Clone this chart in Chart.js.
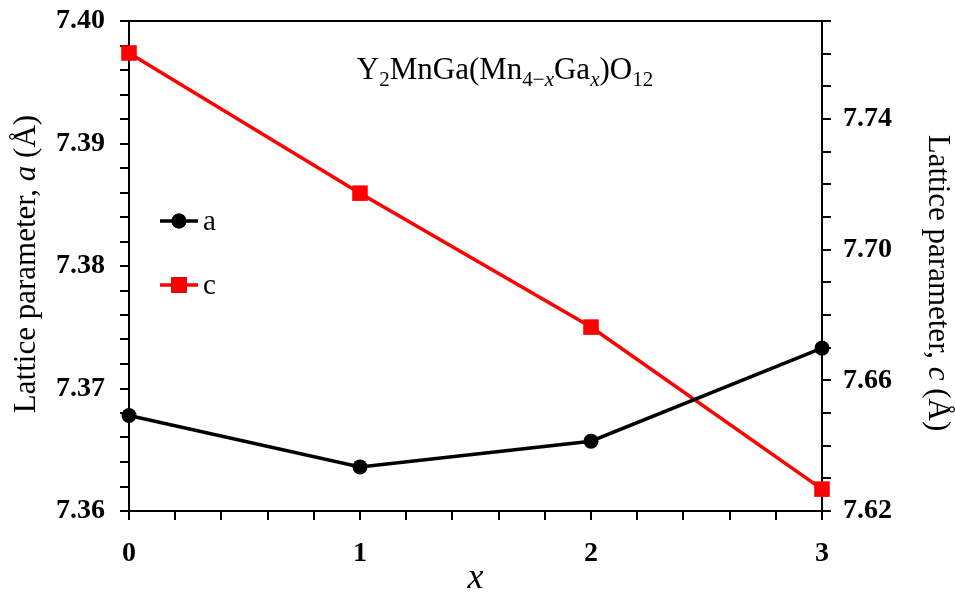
<!DOCTYPE html>
<html>
<head>
<meta charset="utf-8">
<script src="https://cdn.jsdelivr.net/npm/chart.js@4/dist/chart.umd.min.js"></script>
<style>
html,body{margin:0;padding:0;background:#fff;}
#wrap{width:955px;height:592px;}
</style>
</head>
<body>
<div id="wrap"><canvas id="c" width="955" height="592"></canvas></div>
<script>
const xValues = [0, 1, 2, 3];
const aValues = [7.3678, 7.3636, 7.3657, 7.3733];
const cValues = [7.7602, 7.7173, 7.6763, 7.6267];
const leftTicks = ['7.36', '7.37', '7.38', '7.39', '7.40'];
const rightTicks = ['7.62', '7.66', '7.70', '7.74'];
const xTicks = ['0', '1', '2', '3'];

const SERIF = '"Liberation Serif", "Times New Roman", serif';

function richWidth(ctx, segs) {
  let w = 0;
  for (const s of segs) { ctx.font = s.font; w += ctx.measureText(s.t).width; }
  return w;
}
function drawRich(ctx, segs, x, y) {
  let cx = x;
  for (const s of segs) {
    ctx.font = s.font;
    ctx.fillText(s.t, cx, y + (s.dy || 0));
    cx += ctx.measureText(s.t).width;
  }
}

const decor = {
  id: 'decor',
  afterDraw(chart) {
    const ctx = chart.ctx;
    const ca = chart.chartArea;
    ctx.save();
    // top frame line
    ctx.strokeStyle = '#000';
    ctx.lineWidth = 2;
    ctx.beginPath();
    ctx.moveTo(ca.left - 1, ca.top);
    ctx.lineTo(ca.right + 1, ca.top);
    ctx.stroke();

    ctx.fillStyle = '#000';
    ctx.textBaseline = 'alphabetic';
    // title
    const M = '31px ' + SERIF, S = '21px ' + SERIF, SI = 'italic 21px ' + SERIF;
    const title = [
      {t:'Y', font:M}, {t:'2', font:S, dy:7}, {t:'MnGa(Mn', font:M},
      {t:'4\u2212', font:S, dy:7}, {t:'x', font:SI, dy:7}, {t:'Ga', font:M},
      {t:'x', font:SI, dy:7}, {t:')O', font:M}, {t:'12', font:S, dy:7}
    ];
    const tw = richWidth(ctx, title);
    drawRich(ctx, title, 505 - tw / 2, 79);

    // left axis title
    const T = '31px ' + SERIF, TI = 'italic 31px ' + SERIF;
    const lt = [{t:'Lattice parameter, ', font:T}, {t:'a', font:TI}, {t:' (\u00C5)', font:T}];
    ctx.save();
    ctx.translate(35, 264);
    ctx.rotate(-Math.PI / 2);
    drawRich(ctx, lt, -richWidth(ctx, lt) / 2, 0);
    ctx.restore();

    const rt = [{t:'Lattice parameter, ', font:T}, {t:'c', font:TI}, {t:' (\u00C5)', font:T}];
    ctx.save();
    ctx.translate(929, 283);
    ctx.rotate(Math.PI / 2);
    drawRich(ctx, rt, -richWidth(ctx, rt) / 2, 0);
    ctx.restore();

    // x axis title
    ctx.font = 'italic 36px ' + SERIF;
    ctx.textAlign = 'center';
    ctx.fillText('x', (ca.left + ca.right) / 2, 588);
    ctx.textAlign = 'left';

    // legend
    const ds = chart.data.datasets;
    const rows = [221, 285];
    ds.forEach((d, i) => {
      const y = rows[i];
      ctx.strokeStyle = d.borderColor;
      ctx.lineWidth = d.borderWidth;
      ctx.beginPath();
      ctx.moveTo(160, y); ctx.lineTo(198, y); ctx.stroke();
      Chart.helpers.drawPoint(ctx, {pointStyle: d.pointStyle, radius: d.pointRadius, rotation: 0, borderWidth: 0}, 179, y);
      ctx.fillStyle = d.borderColor;
      ctx.fill();
      ctx.fillStyle = '#000';
      ctx.font = '29px ' + SERIF;
      ctx.fillText(d.label, 203, y + 9);
    });
    ctx.restore();
  }
};

function near(v, step, base) {
  const k = (v - base) / step;
  return Math.abs(k - Math.round(k)) < 1e-6;
}

const tickFont = {family: SERIF, size: 28, weight: 'bold'};
function noVPad(s) { s.paddingTop = 0; s.paddingBottom = 0; }

new Chart(document.getElementById('c'), {
  type: 'line',
  data: {
    datasets: [
      {
        label: 'a',
        data: xValues.map((x, i) => ({x, y: aValues[i]})),
        yAxisID: 'y',
        borderColor: '#000', backgroundColor: '#000',
        borderWidth: 3.5, pointStyle: 'circle', pointRadius: 7.5,
        pointBackgroundColor: '#000', pointBorderWidth: 0,
        clip: false, tension: 0
      },
      {
        label: 'c',
        data: xValues.map((x, i) => ({x, y: cValues[i]})),
        yAxisID: 'y2',
        borderColor: '#ff0000', backgroundColor: '#ff0000',
        borderWidth: 3.5, pointStyle: 'rect', pointRadius: 11,
        pointBackgroundColor: '#ff0000', pointBorderWidth: 0,
        clip: false, tension: 0
      }
    ]
  },
  options: {
    responsive: false,
    animation: false,
    layout: {padding: {top: 21, left: 0, right: 0, bottom: 0}},
    plugins: {legend: {display: false}, tooltip: {enabled: false}, title: {display: false}},
    scales: {
      x: {
        type: 'linear', min: 0, max: 3,
        afterFit(s) { s.height = 81; s.paddingLeft = 0; s.paddingRight = 0; },
        border: {display: true, color: '#000', width: 2},
        grid: {drawOnChartArea: false, drawTicks: true, tickLength: 9, color: '#000', lineWidth: 2},
        ticks: {
          stepSize: 0.2, autoSkip: false, maxRotation: 0, color: '#000', font: tickFont, padding: 17,
          callback(v) { const i = xTicks.indexOf(String(Math.round(v))); return near(v, 1, 0) && i >= 0 ? xTicks[i] : ''; }
        }
      },
      y: {
        type: 'linear', position: 'left', min: 7.36, max: 7.40,
        afterFit(s) { s.width = 129; noVPad(s); },
        border: {display: true, color: '#000', width: 2},
        grid: {drawOnChartArea: false, drawTicks: true, tickLength: 9, color: '#000', lineWidth: 2},
        ticks: {
          stepSize: 0.002, autoSkip: false, color: '#000', font: tickFont, padding: 15,
          callback(v) { if (!near(v, 0.01, 7.36)) return ''; const s = v.toFixed(2); return leftTicks.includes(s) ? s : ''; }
        }
      },
      y2: {
        type: 'linear', position: 'right', min: 7.62, max: 7.77,
        afterFit(s) { s.width = 133; noVPad(s); },
        border: {display: true, color: '#000', width: 2},
        grid: {drawOnChartArea: false, drawTicks: true, tickLength: 9, color: '#000', lineWidth: 2},
        ticks: {
          stepSize: 0.01, autoSkip: false, color: '#000', font: tickFont, padding: 12,
          callback(v) { if (!near(v, 0.04, 7.62)) return ''; const s = v.toFixed(2); return rightTicks.includes(s) ? s : ''; }
        }
      }
    }
  },
  plugins: [decor]
});
</script>
</body>
</html>
